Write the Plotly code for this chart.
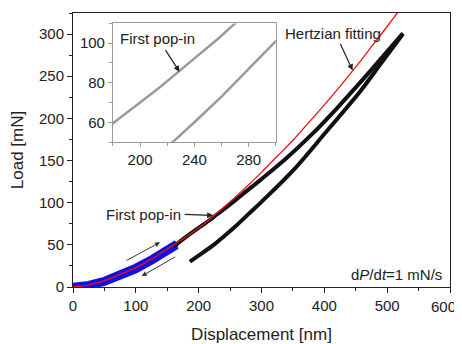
import plotly.graph_objects as go

# Hertzian fit
fit_x = [0, 10, 25, 50, 75, 100, 125, 150, 175, 200, 225, 250, 275, 300, 325, 350, 375, 400, 425, 450, 475, 500, 525]
fit_y = [0, 0.6, 2.5, 7.5, 15, 23, 33, 45, 57, 70, 85, 101, 118, 136, 155, 174, 195, 216, 238, 261, 285, 309, 334]

# low-load segment (blue)
blue_load_x = [0, 10, 25, 50, 75, 100, 125, 150, 165]
blue_load_y = [1, 1.5, 3, 8, 15.5, 23.5, 33.5, 45, 52]
blue_unload_x = [165, 150, 125, 100, 75, 50, 30, 15, 0]
blue_unload_y = [49, 41.5, 30.5, 20.5, 12, 5.5, 2, 0.4, 0]

# loading / unloading (black)
load_x = [160, 180, 200, 215, 229, 245, 257, 270, 300, 340, 380, 420, 460, 495, 525]
load_y = [48, 59.5, 70, 78, 86, 95, 102, 110, 128, 153, 181, 212, 245, 275, 301]
unload_x = [525, 490, 455, 404, 350, 300, 280, 260, 240, 224, 205, 186]
unload_y = [300, 265, 230, 185, 138, 101, 87, 73, 60, 50, 40, 30]

x_ticks = [0, 100, 200, 300, 400, 500, 600]
x_tick_text = ["0", "100", "200", "300", "400", "500", ""]
x_last_label = "600"
y_ticks = [0, 50, 100, 150, 200, 250, 300]
inset_x_ticks = [200, 240, 280]
inset_y_ticks = [60, 80, 100]

FONT = "Arial, Liberation Sans, sans-serif"
AX = "#222222"
INSET = "#9a9a9a"

fig = go.Figure()
fig.add_trace(go.Scatter(x=blue_load_x, y=blue_load_y, mode="lines",
                         line=dict(color="#1010e0", width=7), showlegend=False))
fig.add_trace(go.Scatter(x=blue_unload_x, y=blue_unload_y, mode="lines",
                         line=dict(color="#1010e0", width=7), showlegend=False))
fig.add_trace(go.Scatter(x=load_x, y=load_y, mode="lines", line_shape="spline",
                         line=dict(color="#111111", width=4), showlegend=False))
fig.add_trace(go.Scatter(x=unload_x, y=unload_y, mode="lines", line_shape="spline",
                         line=dict(color="#111111", width=4), showlegend=False))
fig.add_trace(go.Scatter(x=fit_x, y=fit_y, mode="lines", line_shape="spline",
                         line=dict(color="#ee1111", width=1.3), showlegend=False))

# inset
fig.add_trace(go.Scatter(x=load_x, y=load_y, mode="lines", xaxis="x2", yaxis="y2",
                         line=dict(color=INSET, width=2.5), showlegend=False))
fig.add_trace(go.Scatter(x=unload_x, y=unload_y, mode="lines", xaxis="x2", yaxis="y2",
                         line=dict(color=INSET, width=2.5), showlegend=False))

tickfont = dict(family=FONT, size=15, color="#222")

fig.update_layout(
    width=462, height=336,
    margin=dict(l=65, r=20, t=5, b=57),
    paper_bgcolor="white", plot_bgcolor="white",
    font=dict(family=FONT, size=15, color="#222"),
    xaxis=dict(range=[0, 600], tickvals=x_ticks, ticktext=x_tick_text, ticks="outside",
               ticklen=5, automargin=False, ticklabeloverflow="allow",
               tickcolor=AX, showline=True, linecolor=AX, linewidth=1, mirror=True,
               showgrid=False, zeroline=False, tickfont=tickfont,
               minor=dict(dtick=50, ticks="outside", ticklen=3, tickcolor=AX),
               title=dict(text="Displacement [nm]", font=dict(family=FONT, size=17), standoff=16)),
    yaxis=dict(range=[0, 325], tickvals=y_ticks, ticks="outside", ticklen=5, automargin=False,
               ticklabeloverflow="allow",
               tickcolor=AX, showline=True, linecolor=AX, linewidth=1, mirror=True,
               showgrid=False, zeroline=False, tickfont=tickfont,
               minor=dict(dtick=25, ticks="outside", ticklen=3, tickcolor=AX),
               title=dict(text="Load [mN]", font=dict(family=FONT, size=17), standoff=15)),
    xaxis2=dict(domain=[0.106, 0.538], anchor="y2", range=[180, 300], tickvals=inset_x_ticks,
                ticks="outside", ticklen=4, tickcolor=INSET, showline=True, linecolor=INSET,
                automargin=False,
                mirror=True, showgrid=False, zeroline=False, tickfont=tickfont,
                minor=dict(dtick=20, ticks="outside", ticklen=3, tickcolor=INSET)),
    yaxis2=dict(domain=[0.529, 0.962], anchor="x2", range=[50, 110], tickvals=inset_y_ticks,
                ticks="outside", ticklen=4, tickcolor=INSET, showline=True, linecolor=INSET,
                automargin=False,
                mirror=True, showgrid=False, zeroline=False, tickfont=tickfont,
                minor=dict(dtick=10, ticks="outside", ticklen=3, tickcolor=INSET)),
)

annfont = dict(family=FONT, size=15, color="#222")
anns = [
    # last x tick label, kept inside the visible page
    dict(x=x_ticks[-1], y=0, xref="x", yref="y", text=x_last_label, showarrow=False,
         xanchor="center", yanchor="middle", xshift=-7, yshift=-19, font=tickfont),
    # main first pop-in
    dict(x=175, y=86.5, xref="x", yref="y", text="First pop-in", showarrow=False,
         xanchor="right", yanchor="middle", font=annfont),
    dict(x=223, y=85, xref="x", yref="y", text="", showarrow=True, ax=-30, ay=-1,
         arrowhead=2, arrowsize=1, arrowwidth=1.2, arrowcolor="#222"),
    # Hertzian
    dict(x=334, y=301, xref="x", yref="y", text="Hertzian fitting", showarrow=False,
         xanchor="left", yanchor="middle", font=annfont),
    dict(x=445, y=257, xref="x", yref="y", text="", showarrow=True, ax=-13, ay=-28,
         arrowhead=2, arrowsize=1, arrowwidth=1.2, arrowcolor="#222"),
    # inset first pop-in
    dict(x=183.5, y=102.4, xref="x2", yref="y2", text="First pop-in", showarrow=False,
         xanchor="left", yanchor="middle", font=annfont),
    dict(x=229, y=85.6, xref="x2", yref="y2", text="", showarrow=True, ax=-15, ay=-23,
         arrowhead=2, arrowsize=1, arrowwidth=1.2, arrowcolor="#222"),
    # direction arrows
    dict(x=138.5, y=53, xref="x", yref="y", text="", showarrow=True, ax=-35, ay=19,
         arrowhead=2, arrowsize=1, arrowwidth=1, arrowcolor="#333"),
    dict(x=109.3, y=13, xref="x", yref="y", text="", showarrow=True, ax=35, ay=-20,
         arrowhead=2, arrowsize=1, arrowwidth=1, arrowcolor="#333"),
    # rate
    dict(x=(444 - 73) / 377, y=0.044, xref="paper", yref="paper", text="d<i>P</i>/d<i>t</i>=1 mN/s",
         showarrow=False, xanchor="right", yanchor="middle", font=annfont),
]
fig.update_layout(annotations=anns)

fig.write_html("out.html")
